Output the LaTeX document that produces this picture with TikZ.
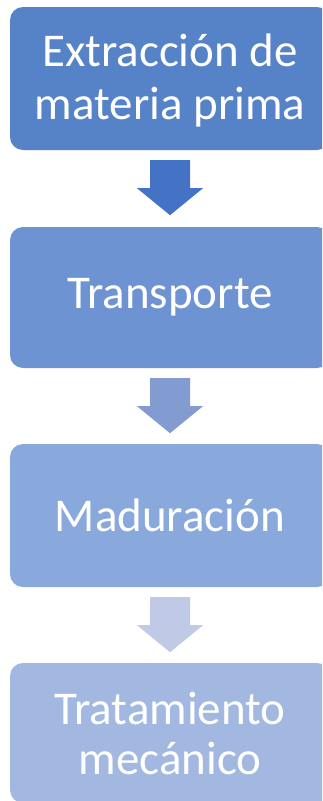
\documentclass[tikz,border=0pt]{standalone}
\usepackage{fontspec}
\setmainfont{Carlito}
\usetikzlibrary{calc}
\definecolor{boxA}{RGB}{86,130,200}
\definecolor{boxB}{RGB}{110,147,210}
\definecolor{boxC}{RGB}{137,168,220}
\definecolor{boxD}{RGB}{162,184,224}
\definecolor{arrA}{RGB}{68,114,196}
\definecolor{arrB}{RGB}{130,156,210}
\definecolor{arrC}{RGB}{192,202,230}
\tikzset{
  stagebox/.style={draw=none, rounded corners=13pt, minimum width=320pt,
    text=white, align=center, inner sep=0pt,
    font=\fontsize{47}{53}\selectfont},
  pics/blockarrow/.style={code={
    \fill[#1] (-20,0) -- (20,0) -- (20,28) -- (33,28) -- (0,55)
      -- (-33,28) -- (-20,28) -- cycle;}}
}
\begin{document}
\begin{tikzpicture}[x=1pt,y=-1pt]
\useasboundingbox (0,0) rectangle (322,801);
\clip (0,0) rectangle (322,801);
\node[stagebox, fill=boxA, minimum height=143pt] (b1) at (170,78.5) {};
\node[text=white, align=center, inner sep=0pt,
  font=\fontsize{47}{53}\selectfont] (t1) at ($(b1.center)+(0,2)$)
  {Extracción de\\materia prima};
\node[stagebox, fill=boxB, minimum height=141pt] (b2) at (170,297.5)
  {Transporte};
\node[stagebox, fill=boxC, minimum height=143pt] (b3) at (170,515.5)
  {Maduración};
\node[stagebox, fill=boxD, minimum height=140pt,
  font=\fontsize{47}{50}\selectfont] (b4) at (170,733)
  {Tratamiento\\mecánico};
\pic at ($(b1.south)+(0,10)$) {blockarrow=arrA};
\pic at ($(b2.south)+(0,10)$) {blockarrow=arrB};
\pic at ($(b3.south)+(0,10)$) {blockarrow=arrC};
\end{tikzpicture}
\end{document}
